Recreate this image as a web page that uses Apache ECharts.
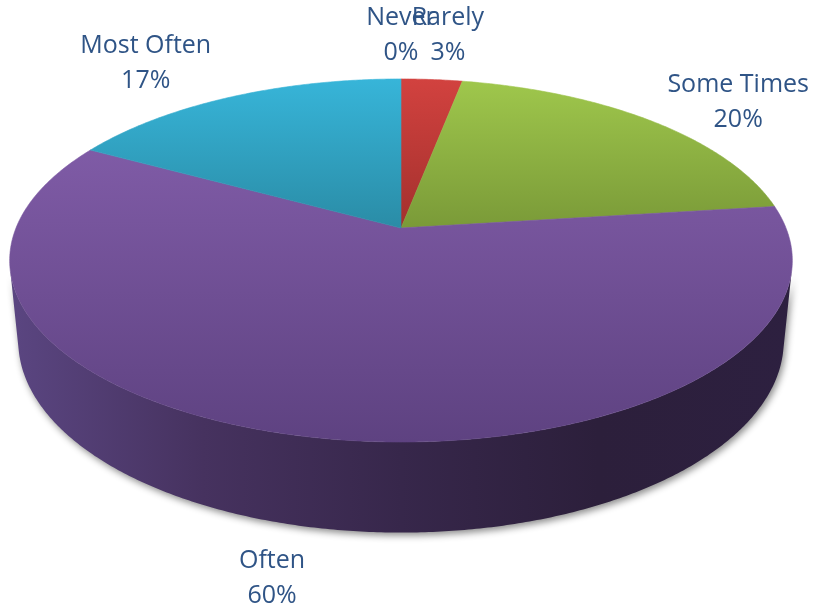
<!DOCTYPE html>
<html>
<head>
<meta charset="utf-8">
<script src="https://cdn.jsdelivr.net/npm/echarts@6/dist/echarts.min.js"></script>
<style>
  html, body { margin: 0; padding: 0; background: #ffffff; }
  #chart { width: 814px; height: 609px; }
</style>
</head>
<body>
<div id="chart"></div>
<script>
// Survey answers and their shares (percent)
const categories = ['Never', 'Rarely', 'Some Times', 'Often', 'Most Often'];
const shares = [0, 3, 20, 60, 17];

// Face colours for each slice: top face light/dark ends, and wall colours
const topLight = ['#c74a47', '#d2423f', '#9fc74c', '#7f5ba6', '#37b5d9'];
const topDark  = ['#99302d', '#a3302d', '#7a9a38', '#5e4281', '#2a8ca6'];
const wallColors = [
  ['#7a2220', '#7a2220'],
  ['#7a2220', '#7a2220'],
  ['#5c7428', '#5c7428'],
  ['#5b4682', '#46325f', '#37274b', '#2c1f3b', '#2d2040'],
  ['#1f6a7e', '#1f6a7e']
];
const labelColor = '#2f5486';
const labelFont = '"Open Sans", "Liberation Sans", sans-serif';
const labelSize = 25;
const labelLine = 35;

// Perspective view of the pie disc
const view = {
  cx: 401, cy: 228,            // screen position of the disc centre
  R: 385,                      // disc radius
  sinT: 0.4564, cosT: 0.8898,  // camera tilt
  focal: 1914,                 // perspective distance
  depth: 91                    // disc thickness
};
// Flat ellipse used for placing the outside labels
const labelEllipse = { cx: 401, cy: 258, rx: 391, ry: 182, gap: 15, margin: 5, nudgeY: 6 };

function project(theta, r, z) {
  const t = theta * Math.PI / 180;
  const X = r * Math.sin(t), Y = r * Math.cos(t);
  const w = Y * view.cosT - z * view.sinT;
  const v = Y * view.sinT + z * view.cosT;
  const s = view.focal / (view.focal + w);
  return [view.cx + X * s, view.cy - v * s];
}

// The outer wall faces the camera for angles in (frontLo, frontHi)
const frontLo = Math.acos(-view.R / (view.focal * view.cosT)) * 180 / Math.PI;
const frontHi = 360 - frontLo;

const total = shares.reduce((a, b) => a + b, 0);
const startAngles = [];
shares.reduce((acc, v, i) => { startAngles[i] = acc; return acc + v / total * 360; }, 0);

const measureCtx = document.createElement('canvas').getContext('2d');
measureCtx.font = labelSize + 'px ' + labelFont;

function arcPoints(a0, a1, r, z) {
  const pts = [];
  const n = Math.max(2, Math.ceil((a1 - a0) / 0.5));
  for (let k = 0; k <= n; k++) pts.push(project(a0 + (a1 - a0) * k / n, r, z));
  return pts;
}

// Centre of an outside label for a slice whose middle is at angle mid
function labelCenter(mid, boxW, boxH, chartW) {
  const E = labelEllipse;
  const t = mid * Math.PI / 180;
  const sn = Math.sin(t), cs = Math.cos(t);
  const ex = E.rx * sn, ey = -E.ry * cs;
  // where the ray leaves the disc, counting the wall below the rim
  const dd = view.depth / E.ry;
  const exitT = Math.max(1, -cs * dd + Math.sqrt(cs * cs * dd * dd - dd * dd + 1));
  const px = E.cx + ex * exitT, py = E.cy + ey * exitT;
  const len = Math.hypot(ex, ey) || 1;
  const ux = ex / len, uy = ey / len;
  const clear = Math.min(
    Math.abs(ux) > 1e-6 ? boxW / 2 / Math.abs(ux) : Infinity,
    Math.abs(uy) > 1e-6 ? boxH / 2 / Math.abs(uy) : Infinity
  );
  let x = px + ux * (clear + E.gap);
  let y = py + uy * (clear + E.gap) + E.nudgeY;
  x = Math.min(Math.max(x, boxW / 2 + E.margin), chartW - boxW / 2 - E.margin);
  y = Math.max(y, boxH / 2);
  return [x, y];
}

function renderSlice(params, api) {
  const i = params.dataIndex;
  const value = api.value(0);
  const a0 = startAngles[i];
  const a1 = a0 + value / total * 360;
  const children = [];
  const apex = project(0, 0, 0);

  // outer wall, only where it faces the camera
  const lo = Math.max(a0, frontLo), hi = Math.min(a1, frontHi);
  if (hi > lo) {
    const upper = arcPoints(lo, hi, view.R, 0);
    const lower = arcPoints(lo, hi, view.R, -view.depth).reverse();
    const stops = wallColors[i];
    const fill = {
      type: 'linear', x: view.cx - view.R - 10, y: 0, x2: view.cx + view.R + 10, y2: 0, global: true,
      colorStops: stops.map((c, k) => ({ offset: k / (stops.length - 1), color: c }))
    };
    children.push({
      type: 'polygon', z2: 1,
      shape: { points: upper.concat(lower) },
      style: { fill: fill, shadowBlur: 7, shadowColor: 'rgba(0,0,0,0.45)', shadowOffsetX: 2, shadowOffsetY: 3 }
    });
  }

  // top face, shaded from its upper to its lower edge
  if (a1 > a0) {
    const grad = {
      type: 'linear', x: 0, y: 0, x2: 0, y2: 1,
      colorStops: [{ offset: 0, color: topLight[i] }, { offset: 1, color: topDark[i] }]
    };
    children.push({
      type: 'polygon', z2: 10,
      shape: { points: [apex].concat(arcPoints(a0, a1, view.R, 0)) },
      style: { fill: grad, stroke: grad, lineWidth: 0.6 }
    });
  }

  // outside label: name and percentage
  const name = categories[i];
  const pct = Math.round(value) + '%';
  const boxW = Math.max(measureCtx.measureText(name).width, measureCtx.measureText(pct).width);
  const boxH = labelLine * 2;
  const c = labelCenter((a0 + a1) / 2, boxW, boxH, api.getWidth());
  children.push({
    type: 'text', z2: 20,
    style: {
      text: name + '\n' + pct,
      x: c[0], y: c[1],
      align: 'center', verticalAlign: 'middle',
      fill: labelColor, fontSize: labelSize, fontFamily: labelFont, lineHeight: labelLine
    }
  });
  return { type: 'group', children: children };
}

const chart = echarts.init(document.getElementById('chart'), null, { renderer: 'canvas' });
chart.setOption({
  backgroundColor: '#ffffff',
  animation: false,
  series: [{
    type: 'custom',
    coordinateSystem: 'none',
    renderItem: renderSlice,
    data: categories.map((c, i) => ({ name: c, value: [shares[i]] }))
  }]
});
</script>
</body>
</html>
